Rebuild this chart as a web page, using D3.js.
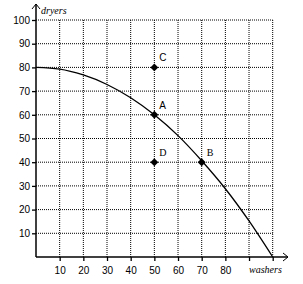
<!DOCTYPE html>
<html><head><meta charset="utf-8">
<script src="https://cdn.jsdelivr.net/npm/d3@7/dist/d3.min.js"></script>
<style>body{margin:0;background:#fff}svg{display:block}</style>
</head><body>
<script>
const ticks = [10,20,30,40,50,60,70,80,90,100];
const xTickLabels = [10,20,30,40,50,60,70,80];
const yTickLabels = [10,20,30,40,50,60,70,80,90,100];
const curveX = [0,10,20,30,40,50,60,70,80,90,100];
const curveY = [80,79.3,76.8,72.8,67.2,60,51.2,40.6,28.8,15.2,0];
const pointNames = ["C","A","D","B"];
const pointX = [50,50,50,70];
const pointY = [80,60,40,40];
const pointFont = ["Liberation Sans","Liberation Sans","Liberation Serif","Liberation Serif"];

const W=303,H=284;
const svg=d3.select("body").append("svg").attr("width",W).attr("height",H);
const x=d3.scaleLinear().domain([0,100]).range([36,272.7]);
const y=d3.scaleLinear().domain([0,100]).range([257,20]);

// grid
const g=svg.append("g");
ticks.forEach(t=>{
  g.append("line").attr("x1",x(t)).attr("x2",x(t)).attr("y1",y(0)).attr("y2",y(100))
   .attr("stroke","#000").attr("stroke-width",1).attr("stroke-dasharray","1,1");
  g.append("line").attr("x1",x(0)).attr("x2",x(100)).attr("y1",y(t)).attr("y2",y(t))
   .attr("stroke","#000").attr("stroke-width",1).attr("stroke-dasharray","1,1");
});

// axes
const xAxis=d3.axisBottom(x).tickValues(ticks).tickSize(4).tickFormat(d=>xTickLabels.includes(d)?d:"");
const yAxis=d3.axisLeft(y).tickValues(yTickLabels).tickSize(4);
const gx=svg.append("g").attr("transform",`translate(0,${y(0)})`).call(xAxis);
const gy=svg.append("g").attr("transform",`translate(${x(0)},0)`).call(yAxis);
[gx,gy].forEach(a=>{
  a.select(".domain").remove();
  a.selectAll("line").attr("stroke","#000").attr("stroke-width",1.3);
  a.selectAll("text").attr("font-family","Liberation Sans, Arial, sans-serif").attr("font-size",10).attr("fill","#000");
});
gx.selectAll("text").attr("dy","0.71em").attr("y",10);
gy.selectAll("text").attr("x",-6);

// axis lines with arrows
svg.append("line").attr("x1",x(0)).attr("x2",288).attr("y1",y(0)).attr("y2",y(0)).attr("stroke","#000").attr("stroke-width",1.5);
svg.append("path").attr("d",`M${283},${y(0)-4} L288,${y(0)} L${283},${y(0)+4}`).attr("fill","none").attr("stroke","#000").attr("stroke-width",1);
svg.append("line").attr("x1",x(0)).attr("x2",x(0)).attr("y1",y(0)).attr("y2",4).attr("stroke","#000").attr("stroke-width",1.5);
svg.append("path").attr("d",`M${x(0)-4},9 L${x(0)},4 L${x(0)+4},9`).attr("fill","none").attr("stroke","#000").attr("stroke-width",1);

svg.append("text").attr("x",41).attr("y",14).text("dryers")
  .attr("font-family","Liberation Serif, serif").attr("font-style","italic").attr("font-size",10);
svg.append("text").attr("x",249).attr("y",273).text("washers")
  .attr("font-family","Liberation Serif, serif").attr("font-style","italic").attr("font-size",10);

// curve
const line=d3.line().x(d=>x(d[0])).y(d=>y(d[1])).curve(d3.curveMonotoneX);
svg.append("path").datum(curveX.map((v,i)=>[v,curveY[i]])).attr("d",line)
  .attr("fill","none").attr("stroke","#000").attr("stroke-width",1.3);

// points
const sym=d3.symbol().type(d3.symbolDiamond2).size(40);
pointNames.forEach((n,i)=>{
  svg.append("path").attr("d",sym).attr("transform",`translate(${x(pointX[i])},${y(pointY[i])})`).attr("fill","#000");
  svg.append("text").attr("x",x(pointX[i])+5).attr("y",y(pointY[i])-6).text(n)
    .attr("font-family",pointFont[i]).attr("font-size",10).attr("fill","#000");
});
</script>
</body></html>
